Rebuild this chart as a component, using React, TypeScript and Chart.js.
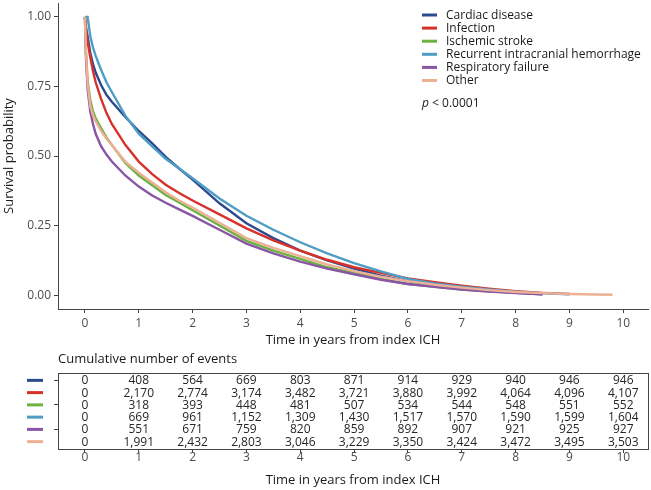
import React, { useEffect, useRef } from 'react';
import { Chart, registerables } from 'chart.js';

Chart.register(...registerables);

const FONT = '"Open Sans", "DejaVu Sans", sans-serif';
const AXIS = '#444444';
const TICK_TEXT = '#4d4d4d';
const TITLE_TEXT = '#1a1a1a';

// ---- data ----
const seriesLabels = [
  'Cardiac disease',
  'Infection',
  'Ischemic stroke',
  'Recurrent intracranial hemorrhage',
  'Respiratory failure',
  'Other',
];
const seriesColors = ['#2C4B8E', '#D7312A', '#6CB23F', '#4E9DC4', '#8955A5', '#EEB095'];

const timePoints = [0, 0.02, 0.05, 0.1, 0.15, 0.2, 0.3, 0.4, 0.5, 0.75, 1, 1.25, 1.5, 1.75, 2, 2.5, 3, 3.5, 4, 4.5, 5, 5.5, 6, 6.5, 7, 7.5, 8, 8.5, 9, 9.5, 9.8];

const survCardiac = [1, 0.96, 0.93, 0.87, 0.83, 0.8, 0.755, 0.72, 0.695, 0.64, 0.59, 0.545, 0.497, 0.455, 0.415, 0.33, 0.258, 0.205, 0.16, 0.125, 0.095, 0.07, 0.05, 0.035, 0.025, 0.015, 0.008, 0.003, null, null, null];
const survInfection = [1, 0.96, 0.91, 0.855, 0.805, 0.765, 0.705, 0.655, 0.615, 0.54, 0.48, 0.435, 0.397, 0.367, 0.34, 0.29, 0.24, 0.197, 0.16, 0.127, 0.1, 0.08, 0.06, 0.046, 0.034, 0.023, 0.014, 0.008, 0.004, null, null];
const survIschemic = [1, 0.87, 0.77, 0.7, 0.66, 0.635, 0.6, 0.567, 0.54, 0.475, 0.43, 0.395, 0.36, 0.333, 0.305, 0.25, 0.195, 0.16, 0.13, 0.1, 0.08, 0.058, 0.04, 0.03, 0.02, 0.014, 0.009, null, null, null, null];
const survRecurrentICH = [1, 1, 1, 0.93, 0.89, 0.86, 0.81, 0.765, 0.73, 0.645, 0.58, 0.535, 0.49, 0.455, 0.42, 0.347, 0.285, 0.235, 0.19, 0.15, 0.115, 0.085, 0.058, 0.042, 0.03, 0.02, 0.012, 0.006, 0.003, null, null];
const survRespiratory = [1, 0.85, 0.74, 0.66, 0.615, 0.58, 0.535, 0.505, 0.48, 0.43, 0.39, 0.358, 0.332, 0.308, 0.285, 0.235, 0.185, 0.15, 0.12, 0.095, 0.075, 0.055, 0.04, 0.03, 0.02, 0.013, 0.007, 0.003, null, null, null];
const survOther = [1, 0.87, 0.76, 0.68, 0.645, 0.625, 0.59, 0.562, 0.54, 0.48, 0.44, 0.405, 0.37, 0.34, 0.315, 0.26, 0.205, 0.17, 0.14, 0.11, 0.086, 0.066, 0.05, 0.037, 0.027, 0.018, 0.011, 0.007, 0.004, 0.002, 0.001];

const yearTicks = [0, 1, 2, 3, 4, 5, 6, 7, 8, 9, 10];
const survivalTicks = [0, 0.25, 0.5, 0.75, 1];

const eventsCardiac = [0, 408, 564, 669, 803, 871, 914, 929, 940, 946, 946];
const eventsInfection = [0, 2170, 2774, 3174, 3482, 3721, 3880, 3992, 4064, 4096, 4107];
const eventsIschemic = [0, 318, 393, 448, 481, 507, 534, 544, 548, 551, 552];
const eventsRecurrentICH = [0, 669, 961, 1152, 1309, 1430, 1517, 1570, 1590, 1599, 1604];
const eventsRespiratory = [0, 551, 671, 759, 820, 859, 892, 907, 921, 925, 927];
const eventsOther = [0, 1991, 2432, 2803, 3046, 3229, 3350, 3424, 3472, 3495, 3503];

const survivalSeries = [survCardiac, survInfection, survIschemic, survRecurrentICH, survRespiratory, survOther];
const eventSeries = [eventsCardiac, eventsInfection, eventsIschemic, eventsRecurrentICH, eventsRespiratory, eventsOther];

const X_MIN = -0.5;
const X_MAX = 10.46;

const fmt = (n: number) => n.toLocaleString('en-US');

const legendPlugin = {
  id: 'kmLegend',
  afterDraw(chart: any) {
    const ctx = chart.ctx;
    ctx.save();
    const x0 = 422;
    seriesLabels.forEach((label, i) => {
      const y = 15 + i * 13.1;
      ctx.strokeStyle = seriesColors[i];
      ctx.lineWidth = 3;
      ctx.beginPath();
      ctx.moveTo(x0, y);
      ctx.lineTo(x0 + 15, y);
      ctx.stroke();
      ctx.fillStyle = TITLE_TEXT;
      ctx.font = `12px ${FONT}`;
      ctx.textBaseline = 'middle';
      ctx.textAlign = 'left';
      ctx.fillText(label, x0 + 24, y + 0.5);
    });
    const py = 104;
    ctx.font = `italic 12px ${FONT}`;
    ctx.fillText('p', x0, py);
    const w = ctx.measureText('p').width;
    ctx.font = `12px ${FONT}`;
    ctx.fillText(' < 0.0001', x0 + w, py);
    ctx.restore();
  },
};

const tablePlugin = {
  id: 'riskTable',
  afterDraw(chart: any) {
    const ctx = chart.ctx;
    const { left, right, top, bottom } = chart.chartArea;
    const yScale = chart.scales.y;
    ctx.save();
    ctx.strokeStyle = AXIS;
    ctx.lineWidth = 1;
    ctx.strokeRect(Math.round(left) + 0.5, Math.round(top) + 0.5, Math.round(right - left), Math.round(bottom - top));
    ctx.fillStyle = TITLE_TEXT;
    ctx.font = `13px ${FONT}`;
    ctx.textAlign = 'left';
    ctx.textBaseline = 'middle';
    ctx.fillText('Cumulative number of events', left, 9);
    seriesColors.forEach((c, i) => {
      const y = yScale.getPixelForValue(i + 1);
      ctx.strokeStyle = c;
      ctx.lineWidth = 3;
      ctx.beginPath();
      ctx.moveTo(27, y);
      ctx.lineTo(43, y);
      ctx.stroke();
    });
    ctx.fillStyle = '#262626';
    ctx.font = `12px ${FONT}`;
    ctx.textAlign = 'center';
    ctx.textBaseline = 'middle';
    chart.data.datasets.forEach((ds: any, i: number) => {
      const meta = chart.getDatasetMeta(i);
      meta.data.forEach((el: any, j: number) => {
        ctx.fillText(fmt(ds.data[j].v), el.x, el.y + 0.5);
      });
    });
    ctx.restore();
  },
};

export default function App() {
  const topRef = useRef<HTMLCanvasElement>(null);
  const botRef = useRef<HTMLCanvasElement>(null);

  useEffect(() => {
    const tickFont = { family: FONT, size: 12 };
    const titleFont = { family: FONT, size: 13 };

    const top = new Chart(topRef.current!, {
      type: 'line',
      data: {
        datasets: survivalSeries.map((vals, i) => ({
          label: seriesLabels[i],
          data: timePoints
            .map((t, j) => ({ x: t, y: vals[j] }))
            .filter((p) => p.y !== null) as any,
          borderColor: seriesColors[i],
          backgroundColor: seriesColors[i],
          borderWidth: 2.4,
          pointRadius: 0,
          tension: 0,
          fill: false,
          order: seriesLabels.length - i,
        })),
      },
      options: {
        responsive: false,
        animation: false,
        devicePixelRatio: 1,
        layout: { padding: { top: 3, right: 3, left: 0, bottom: 0 } },
        plugins: { legend: { display: false }, tooltip: { enabled: false } },
        scales: {
          x: {
            type: 'linear',
            min: X_MIN,
            max: X_MAX,
            afterBuildTicks: (s: any) => {
              s.ticks = yearTicks.map((v) => ({ value: v }));
            },
            afterFit: (s: any) => {
              s.height = 41;
              s.paddingLeft = 0;
              s.paddingRight = 0;
            },
            grid: { display: true, drawOnChartArea: false, drawTicks: true, tickLength: 4, color: AXIS },
            border: { display: true, color: AXIS, width: 1 },
            ticks: { font: tickFont, color: TICK_TEXT, padding: 3, maxRotation: 0, autoSkip: false },
            title: {
              display: true,
              text: 'Time in years from index ICH',
              font: titleFont,
              color: TITLE_TEXT,
              padding: { top: 0, bottom: 2 },
            },
          },
          y: {
            type: 'linear',
            min: -0.05,
            max: 1.05,
            afterBuildTicks: (s: any) => {
              s.ticks = survivalTicks.map((v) => ({ value: v }));
            },
            afterFit: (s: any) => {
              s.width = 58;
              s.paddingTop = 0;
              s.paddingBottom = 0;
            },
            grid: { display: true, drawOnChartArea: false, drawTicks: true, tickLength: 4, color: AXIS },
            border: { display: true, color: AXIS, width: 1 },
            ticks: {
              font: tickFont,
              color: TICK_TEXT,
              padding: 3,
              callback: (v: any) => Number(v).toFixed(2),
            },
            title: {
              display: true,
              text: 'Survival probability',
              font: titleFont,
              color: TITLE_TEXT,
              padding: { top: 1, bottom: 0 },
            },
          },
        },
      },
      plugins: [legendPlugin],
    });

    const bot = new Chart(botRef.current!, {
      type: 'scatter',
      data: {
        datasets: eventSeries.map((vals, i) => ({
          label: seriesLabels[i],
          data: yearTicks.map((t, j) => ({ x: t, y: i + 1, v: vals[j] })) as any,
          pointRadius: 0,
          showLine: false,
        })),
      },
      options: {
        responsive: false,
        animation: false,
        devicePixelRatio: 1,
        layout: { padding: { top: 23, right: 3, left: 0, bottom: 0 } },
        plugins: { legend: { display: false }, tooltip: { enabled: false } },
        scales: {
          x: {
            type: 'linear',
            min: X_MIN,
            max: X_MAX,
            afterBuildTicks: (s: any) => {
              s.ticks = yearTicks.map((v) => ({ value: v }));
            },
            afterFit: (s: any) => {
              s.height = 41;
              s.paddingLeft = 0;
              s.paddingRight = 0;
            },
            grid: { display: true, drawOnChartArea: false, drawTicks: true, tickLength: 4, color: AXIS },
            border: { display: true, color: AXIS, width: 1 },
            ticks: { font: tickFont, color: TICK_TEXT, padding: -3, maxRotation: 0, autoSkip: false },
            title: {
              display: true,
              text: 'Time in years from index ICH',
              font: titleFont,
              color: TITLE_TEXT,
              padding: { top: 0, bottom: 2 },
            },
          },
          y: {
            type: 'linear',
            min: 0.4,
            max: 6.6,
            reverse: true,
            afterBuildTicks: (s: any) => {
              s.ticks = seriesLabels.map((_, i) => ({ value: i + 1 }));
            },
            afterFit: (s: any) => {
              s.width = 58;
              s.paddingTop = 0;
              s.paddingBottom = 0;
            },
            grid: { display: true, drawOnChartArea: false, drawTicks: true, tickLength: 4, color: AXIS },
            border: { display: true, color: AXIS, width: 1 },
            ticks: { font: tickFont, padding: 0, callback: () => '' },
          },
        },
      },
      plugins: [tablePlugin],
    });

    return () => {
      top.destroy();
      bot.destroy();
    };
  }, []);

  return (
    <div style={{ position: 'absolute', left: 0, top: 0, width: 651, height: 490, background: '#ffffff' }}>
      <canvas
        ref={topRef}
        width={651}
        height={350}
        style={{ position: 'absolute', left: 0, top: 0, width: 651, height: 350 }}
      />
      <canvas
        ref={botRef}
        width={651}
        height={140}
        style={{ position: 'absolute', left: 0, top: 350, width: 651, height: 140 }}
      />
    </div>
  );
}
